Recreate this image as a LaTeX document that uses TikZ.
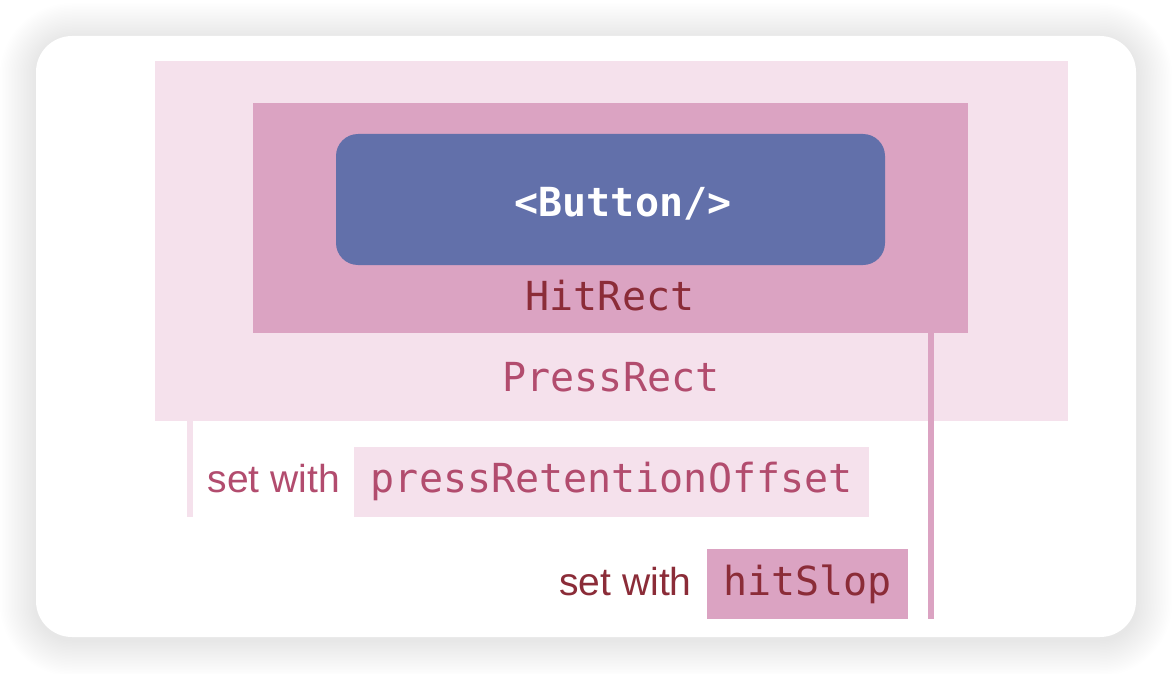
\documentclass[tikz,border=0pt]{standalone}
\usepackage{fontspec}
\setsansfont{Liberation Sans}
\setmonofont{DejaVu Sans Mono}
\usepackage{tikz}

\definecolor{pressfill}{RGB}{245,225,236}
\definecolor{hitfill}{RGB}{219,163,194}
\definecolor{buttonfill}{RGB}{98,112,170}
\definecolor{hitink}{RGB}{139,44,56}
\definecolor{pressink}{RGB}{178,76,110}

\begin{document}
\begin{tikzpicture}[x=0.5pt, y=-0.5pt, every node/.style={inner sep=0pt, outer sep=0pt},
  code/.style={font=\ttfamily\fontsize{20pt}{24pt}\selectfont},
  setwith/.style={font=\sffamily\fontsize{19.5pt}{23pt}\selectfont}]
  \fill[white] (0,0) rectangle (1172,674);
  \useasboundingbox (0,0) rectangle (1172,674);
  \foreach \s in {1,...,24}
    \fill[black, opacity=0.005, rounded corners=18pt+0.75pt*\s] (36-1.5*\s,39-1.5*\s) rectangle (1136+1.5*\s,640+1.5*\s);
  \fill[white, rounded corners=18pt] (36,36) rectangle (1136,637);
  \node[fill=pressfill, minimum width=456.7pt, minimum height=179.8pt] (press) at (611.7,240.8) {};
  \node[fill=hitfill, minimum width=357.2pt, minimum height=115.2pt] (hit) at (610.5,218.2) {};
  \node[fill=buttonfill, rounded corners=11pt, minimum width=274.5pt, minimum height=65.5pt] (button) at (610.5,199.5) {};
  \node[code, anchor=base, text=white, font=\ttfamily\bfseries\fontsize{20pt}{24pt}\selectfont] (buttonlabel) at (623,216) {<Button/>};
  \node[code, anchor=base, text=hitink] (hitlabel) at (610,310) {HitRect};
  \node[code, anchor=base, text=pressink] (presslabel) at (611,391) {PressRect};
  \node[code, fill=pressfill, text=pressink, minimum width=257.7pt, minimum height=35pt] (retbox) at (611.7,481.7) {pressRetentionOffset};
  \node[setwith, anchor=base east, text=pressink] (retlabel) at ([xshift=-7pt]retbox.base west) {set with};
  \node[code, fill=hitfill, text=hitink, minimum width=100.8pt, minimum height=35pt] (slopbox) at (807.5,584.3) {hitSlop};
  \node[setwith, anchor=base east, text=hitink] (sloplabel) at ([xshift=-7.5pt]slopbox.base west) {set with};
  \coordinate (pressleg) at (190,420.7);
  \coordinate (hitleg) at (931,333.3);
  \draw[pressfill, line width=3.25pt] (pressleg) -- (pressleg |- retbox.south);
  \draw[hitfill, line width=3.25pt] (hitleg) -- (hitleg |- slopbox.south);
\end{tikzpicture}
\end{document}
